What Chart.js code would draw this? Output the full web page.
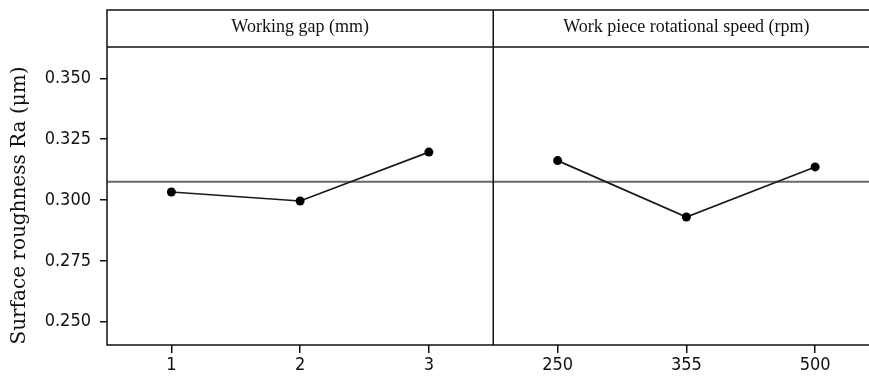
<!DOCTYPE html>
<html>
<head>
<meta charset="utf-8">
<script src="https://cdn.jsdelivr.net/npm/chart.js@4/dist/chart.umd.min.js"></script>
<style>
  html, body { margin: 0; padding: 0; background: #fff; overflow: hidden; }
  #wrap { width: 884px; height: 386px; }
  #mainEffects { width: 884px; height: 386px; display: block; }
</style>
</head>
<body>
<div id="wrap"><canvas id="mainEffects" width="884" height="386"></canvas></div>
<script>
// levels of both factors, side by side on one category axis
const xLabels = ['1', '2', '3', '250', '355', '500'];
// mean Ra for each level (um)
const gapMeans = [0.3033, 0.2996, 0.3197, null, null, null];
const speedMeans = [null, null, null, 0.3162, 0.2930, 0.3136];
const grandMean = 0.3075;
const yTicks = [0.250, 0.275, 0.300, 0.325, 0.350];
const panelTitles = ['Working gap (mm)', 'Work piece rotational speed (rpm)'];
const panelLevels = [3, 3];

const HEADER_TOP = 10;

// draws the mean line, the frame, the header strip and panel titles
const panelsPlugin = {
    id: 'panels',
    beforeDatasetsDraw(chart) {
        const { ctx, chartArea: a, scales } = chart;
        const y = scales.y.getPixelForValue(grandMean);
        ctx.save();
        ctx.strokeStyle = '#6a6a6a';
        ctx.lineWidth = 2;
        ctx.beginPath();
        ctx.moveTo(a.left, y);
        ctx.lineTo(a.right, y);
        ctx.stroke();
        ctx.restore();
    },
    afterDraw(chart) {
        const { ctx, chartArea: a, scales } = chart;
        const xs = scales.x;
        ctx.save();
        ctx.strokeStyle = '#111';
        ctx.lineWidth = 1.5;
        ctx.strokeRect(a.left, HEADER_TOP, a.right - a.left, a.bottom - HEADER_TOP);
        ctx.beginPath();
        ctx.moveTo(a.left, a.top);
        ctx.lineTo(a.right, a.top);
        ctx.stroke();

        // panel dividers + titles
        let start = 0;
        ctx.fillStyle = '#111';
        ctx.font = '18px "Liberation Serif", "Times New Roman", serif';
        ctx.textAlign = 'center';
        ctx.textBaseline = 'alphabetic';
        panelLevels.forEach((n, i) => {
            const x0 = xs.getPixelForValue(start - 0.5);
            const x1 = xs.getPixelForValue(start + n - 0.5);
            if (i > 0) {
                ctx.beginPath();
                ctx.moveTo(x0, HEADER_TOP);
                ctx.lineTo(x0, a.bottom);
                ctx.stroke();
            }
            ctx.fillText(panelTitles[i], (x0 + x1) / 2, 32);
            start += n;
        });
        ctx.restore();
    }
};

const seriesStyle = {
    borderColor: '#1a1a1a',
    backgroundColor: '#000',
    borderWidth: 1.7,
    pointRadius: 4.5,
    pointBackgroundColor: '#000',
    pointBorderWidth: 0,
    tension: 0,
    spanGaps: false
};

new Chart(document.getElementById('mainEffects'), {
    type: 'line',
    data: {
        labels: xLabels,
        datasets: [
            Object.assign({ label: 'Working gap', data: gapMeans }, seriesStyle),
            Object.assign({ label: 'Rotational speed', data: speedMeans }, seriesStyle)
        ]
    },
    options: {
        responsive: false,
        animation: false,
        devicePixelRatio: 1,
        layout: { padding: { top: 47, right: 1, left: 0, bottom: 0 } },
        plugins: { legend: { display: false }, tooltip: { enabled: false } },
        scales: {
            x: {
                offset: true,
                afterFit: s => { s.height = 41; },
                border: { display: false },
                grid: { drawOnChartArea: false, tickLength: 8, color: '#111', lineWidth: 1.5 },
                ticks: {
                    color: '#111',
                    padding: 2,
                    maxRotation: 0,
                    font: { family: '"DejaVu Sans Condensed", "DejaVu Sans", sans-serif', size: 18 }
                }
            },
            y: {
                min: 0.2404,
                max: 0.3629,
                afterFit: s => { s.width = 107; },
                afterBuildTicks: s => { s.ticks = yTicks.map(v => ({ value: v })); },
                border: { display: false },
                grid: { drawOnChartArea: false, tickLength: 7, color: '#111', lineWidth: 1.5 },
                ticks: {
                    color: '#111',
                    padding: 9,
                    callback: v => v.toFixed(3),
                    font: { family: '"DejaVu Sans Condensed", "DejaVu Sans", sans-serif', size: 18 }
                },
                title: {
                    display: true,
                    // trailing spaces nudge the rotated title down a little
                    text: 'Surface roughness Ra (\u03bcm)   ',
                    color: '#111',
                    padding: { top: 8, bottom: 0 },
                    font: { family: '"DejaVu Serif", serif', size: 20 }
                }
            }
        }
    },
    plugins: [panelsPlugin]
});
</script>
</body>
</html>
